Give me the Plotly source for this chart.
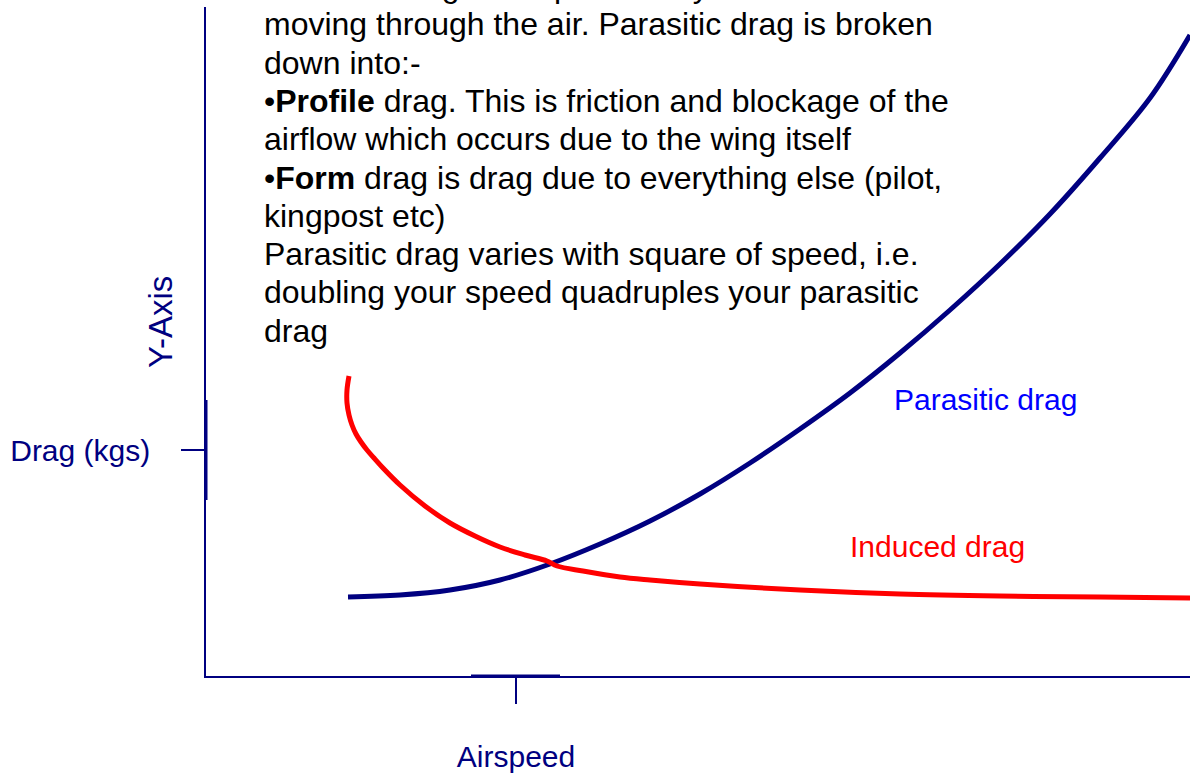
import plotly.graph_objects as go

# Parasitic drag curve (airspeed units, drag units)
parasitic_speed = [142, 194, 244, 294, 344, 394, 444, 494, 544, 594, 644, 694, 744, 794, 844, 894, 944, 984]
parasitic_drag = [79, 81, 86, 96, 112, 132, 155, 182, 213, 247, 283, 323, 366, 412, 462, 518, 578, 641]

# Induced drag curve
induced_speed = [143, 141, 141, 143, 146, 150, 155, 161, 168, 177, 194, 219, 244, 269, 294, 319, 341, 351, 377, 414, 444, 494, 594, 694, 794, 894, 984]
induced_drag = [300, 286, 273, 261, 251, 242, 234, 226, 218, 208, 191, 170, 153, 140, 129, 121, 115, 110, 105, 99, 96, 92, 86, 82, 80, 79, 78]

# Axis tick positions and labels
x_tick_vals = [310]
x_tick_text = ["Airspeed"]
y_tick_vals = [226]
y_tick_text = ["Drag (kgs)"]

# Explanatory text, one entry per line
note_lines = [
    "Parasitic drag is the pull on any kite",
    "moving through the air. Parasitic drag is broken",
    "down into:-",
    "•<b>Profile</b> drag. This is friction and blockage of the",
    "airflow which occurs due to the wing itself",
    "•<b>Form</b> drag is drag due to everything else (pilot,",
    "kingpost etc)",
    "Parasitic drag varies with square of speed, i.e.",
    "doubling your speed quadruples your parasitic",
    "drag",
]

NAVY = "#000080"
FONT = "Liberation Sans, Arial, sans-serif"

W, H = 1190, 775
L, T, B = 206, 7, 99
X_RANGE = [0, W - L]
Y_RANGE = [0, H - T - B]


def paper_x(px):
    return (px - L) / (W - L)


def paper_y(py):
    return (H - B - py) / (H - T - B)


fig = go.Figure()

fig.add_trace(go.Scatter(
    x=parasitic_speed, y=parasitic_drag, mode="lines",
    line=dict(color=NAVY, width=5, shape="spline", smoothing=1),
    cliponaxis=False, showlegend=False, hoverinfo="skip",
))
fig.add_trace(go.Scatter(
    x=induced_speed, y=induced_drag, mode="lines",
    line=dict(color="#FF0000", width=5, shape="spline", smoothing=1),
    cliponaxis=False, showlegend=False, hoverinfo="skip",
))

annotations = []
for i, line in enumerate(note_lines):
    annotations.append(dict(
        x=paper_x(262), y=paper_y(-14 + 38.3 * i), xref="paper", yref="paper",
        text=line, showarrow=False, xanchor="left", yanchor="middle",
        align="left", font=dict(family=FONT, size=32, color="black"),
    ))

annotations += [
    dict(x=paper_x(985), y=paper_y(400), xref="paper", yref="paper",
         text="Parasitic drag", showarrow=False,
         xanchor="center", yanchor="middle",
         font=dict(family=FONT, size=30, color="#0000FF")),
    dict(x=paper_x(937), y=paper_y(546), xref="paper", yref="paper",
         text="Induced drag", showarrow=False,
         xanchor="center", yanchor="middle",
         font=dict(family=FONT, size=30, color="#FF0000")),
    dict(x=paper_x(160), y=paper_y(322), xref="paper", yref="paper",
         text="Y-Axis", textangle=-90, showarrow=False,
         xanchor="center", yanchor="middle",
         font=dict(family=FONT, size=33, color=NAVY)),
]

shapes = [
    dict(type="line", xref="x", yref="y", x0=0, x1=0,
         y0=H - B - 400, y1=H - B - 500, line=dict(color=NAVY, width=3)),
    dict(type="line", xref="x", yref="y", x0=471 - L, x1=560 - L,
         y0=0, y1=0, line=dict(color=NAVY, width=3)),
]

fig.update_layout(
    width=W, height=H,
    margin=dict(l=L, r=0, t=T, b=B),
    paper_bgcolor="white", plot_bgcolor="white",
    showlegend=False,
    annotations=annotations,
    shapes=shapes,
    xaxis=dict(
        range=X_RANGE, showgrid=False, zeroline=False,
        showline=True, linecolor=NAVY, linewidth=1.5,
        ticks="outside", ticklen=26, tickwidth=1.5, tickcolor=NAVY,
        tickvals=x_tick_vals, ticktext=x_tick_text,
        tickfont=dict(family=FONT, size=30, color=NAVY),
        ticklabelstandoff=27, automargin=False, fixedrange=True,
    ),
    yaxis=dict(
        range=Y_RANGE, showgrid=False, zeroline=False,
        showline=True, linecolor=NAVY, linewidth=1.5,
        ticks="outside", ticklen=23, tickwidth=1.5, tickcolor=NAVY,
        tickvals=y_tick_vals, ticktext=y_tick_text,
        tickfont=dict(family=FONT, size=30, color=NAVY),
        ticklabelstandoff=25, automargin=False, fixedrange=True,
    ),
)

fig.write_html("out.html", config={"displayModeBar": False})
